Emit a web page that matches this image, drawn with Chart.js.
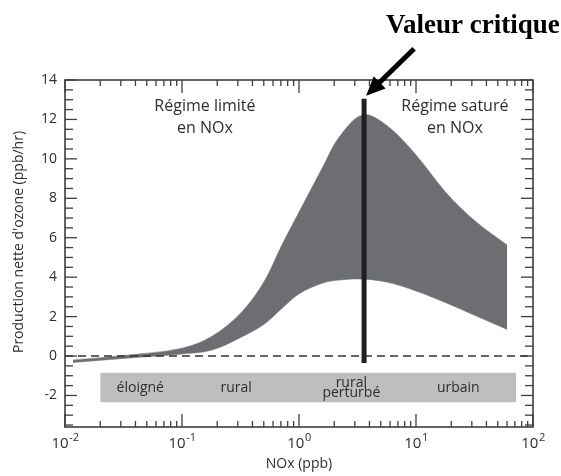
<!DOCTYPE html>
<html>
<head>
<meta charset="utf-8">
<script src="https://cdn.jsdelivr.net/npm/chart.js@4.4.1/dist/chart.umd.min.js"></script>
<style>
  body { margin: 0; background: #fff; }
  #ozoneChart { display: block; }
</style>
</head>
<body>
<canvas id="ozoneChart" width="561" height="476"></canvas>
<script>
// NOx (ppb) sample points along the band
const noxPoints = [0.0117, 0.032, 0.1, 0.18, 0.32, 0.5, 0.71, 1, 1.6, 2.2, 3.5, 5.6, 10, 18, 32, 60];
// upper and lower edges of net ozone production (ppb/hr)
const ozoneUpper = [-0.2, 0.03, 0.4, 1.0, 2.2, 3.75, 5.6, 7.3, 9.6, 11.1, 12.23, 11.7, 10.2, 8.3, 6.85, 5.63];
const ozoneLower = [-0.33, -0.12, 0.1, 0.3, 0.95, 1.6, 2.4, 3.15, 3.7, 3.85, 3.9, 3.75, 3.3, 2.7, 2.05, 1.35];

// critical NOx value (vertical bar)
const critNox = 3.6;
const critRange = [-0.35, 13.05];

// environment strip under the curve
const zoneNames = [['éloigné'], ['rural'], ['rural', 'perturbé'], ['urbain']];
const zoneNox = [0.044, 0.29, 2.8, 23];
const zoneStripNox = [0.02, 72];
const zoneStripY = [-0.85, -2.35];

// regime notes
const regimeText = [['Régime limité', 'en NOx'], ['Régime saturé', 'en NOx']];
const regimeNox = [0.157, 21.5];
const regimeY = 12.1;

// axes
const xRange = [0.01, 100];
const yRange = [-3.6, 14];
const xDecades = [0.01, 0.1, 1, 10, 100];
const xExponents = ['-2', '-1', '0', '1', '2'];
const yLabels = [-2, 0, 2, 4, 6, 8, 10, 12, 14];
const yMinorStep = 0.5;

const axisInk = '#3f3f3f';
const textInk = '#2e2e2e';
const sans = '"Open Sans", sans-serif';

const pts = (xs, ys) => xs.map((x, i) => ({ x: x, y: ys[i] }));
const isLabelled = v => yLabels.some(l => Math.abs(l - v) < 1e-6);

// frame and inward ticks on all four sides
function drawFrame(ctx, x, y) {
  const left = x.getPixelForValue(xRange[0]);
  const right = x.getPixelForValue(xRange[1]);
  const top = y.getPixelForValue(yRange[1]);
  const bottom = y.getPixelForValue(yRange[0]);
  ctx.save();
  ctx.strokeStyle = axisInk;
  ctx.lineWidth = 1.6;
  ctx.strokeRect(left, top, right - left, bottom - top);

  ctx.fillStyle = axisInk;
  xDecades.forEach((d, i) => {
    const steps = i < xDecades.length - 1 ? [1, 2, 3, 4, 5, 6, 7, 8, 9] : [1];
    steps.forEach(m => {
      const px = x.getPixelForValue(d * m);
      const len = m === 1 ? 13 : 6;
      ctx.fillRect(px - 0.65, bottom - len, 1.3, len);
      ctx.fillRect(px - 0.65, top, 1.3, len);
    });
  });
  for (let v = yRange[1]; v > yRange[0]; v -= yMinorStep) {
    const py = y.getPixelForValue(v);
    const len = isLabelled(v) ? 12 : 8;
    ctx.fillRect(left, py - 0.65, len, 1.3);
    ctx.fillRect(right - len, py - 0.65, len, 1.3);
  }
  ctx.restore();
}

// log labels, titles and text notes
const notes = {
  id: 'notes',
  afterDraw(chart) {
    const ctx = chart.ctx;
    const x = chart.scales.x, y = chart.scales.y;
    drawFrame(ctx, x, y);

    const bottom = y.getPixelForValue(yRange[0]);
    const top = y.getPixelForValue(yRange[1]);
    ctx.save();

    // 10^n labels under the x axis
    ctx.fillStyle = textInk;
    ctx.textBaseline = 'alphabetic';
    ctx.textAlign = 'left';
    xDecades.forEach((d, i) => {
      const px = x.getPixelForValue(d);
      ctx.font = '15px ' + sans;
      const wBase = ctx.measureText('10').width;
      ctx.font = '11px ' + sans;
      const wExp = ctx.measureText(xExponents[i]).width;
      const left = px - (wBase + wExp) / 2;
      ctx.font = '15px ' + sans;
      ctx.fillText('10', left, bottom + 21);
      ctx.font = '11px ' + sans;
      ctx.fillText(xExponents[i], left + wBase + 0.5, bottom + 14);
    });

    // y axis title
    ctx.save();
    ctx.translate(19, top + 162);
    ctx.rotate(-Math.PI / 2);
    ctx.font = '14px ' + sans;
    ctx.textAlign = 'center';
    ctx.textBaseline = 'middle';
    ctx.fillText("Production nette d'ozone (ppb/hr)", 0, 0);
    ctx.restore();

    // zone names inside the grey strip
    ctx.font = '14px ' + sans;
    ctx.textAlign = 'center';
    ctx.textBaseline = 'middle';
    const stripMid = y.getPixelForValue((zoneStripY[0] + zoneStripY[1]) / 2);
    zoneNames.forEach((lines, i) => {
      const px = x.getPixelForValue(zoneNox[i]);
      const first = stripMid - (lines.length - 1) * 5;
      lines.forEach((s, k) => ctx.fillText(s, px, first + k * 10.5));
    });

    // regime notes
    ctx.font = '16px ' + sans;
    const regMid = y.getPixelForValue(regimeY);
    regimeText.forEach((lines, i) => {
      const px = x.getPixelForValue(regimeNox[i]);
      lines.forEach((s, k) => ctx.fillText(s, px, regMid - 11 + k * 22));
    });

    // arrow onto the top of the critical bar
    const tipX = x.getPixelForValue(critNox) + 2;
    const tipY = y.getPixelForValue(critRange[1]) - 3;
    const tailX = tipX + 48, tailY = tipY - 47;
    const ang = Math.atan2(tipY - tailY, tipX - tailX);
    const headLen = 19, headHalf = 8.5;
    const baseX = tipX - headLen * Math.cos(ang), baseY = tipY - headLen * Math.sin(ang);
    ctx.strokeStyle = '#000';
    ctx.fillStyle = '#000';
    ctx.lineWidth = 5;
    ctx.beginPath();
    ctx.moveTo(tailX, tailY);
    ctx.lineTo(baseX + 2 * Math.cos(ang), baseY + 2 * Math.sin(ang));
    ctx.stroke();
    ctx.beginPath();
    ctx.moveTo(tipX, tipY);
    ctx.lineTo(baseX + headHalf * Math.sin(ang), baseY - headHalf * Math.cos(ang));
    ctx.lineTo(baseX - headHalf * Math.sin(ang), baseY + headHalf * Math.cos(ang));
    ctx.closePath();
    ctx.fill();

    ctx.font = 'bold 27px "Liberation Serif", "Times New Roman", serif';
    ctx.textAlign = 'left';
    ctx.textBaseline = 'alphabetic';
    ctx.fillText('Valeur critique', tailX - 28, tailY - 16);

    ctx.restore();
  }
};

new Chart(document.getElementById('ozoneChart'), {
  type: 'line',
  data: {
    datasets: [
      {
        label: 'Valeur critique',
        data: pts([critNox, critNox], critRange),
        borderColor: '#231f20',
        borderWidth: 5,
        borderCapStyle: 'butt',
        order: 0
      },
      {
        label: 'zero',
        data: pts(xRange, [0, 0]),
        borderColor: '#333',
        borderWidth: 1.3,
        borderDash: [8, 5],
        order: 1
      },
      {
        label: 'max',
        data: pts(noxPoints, ozoneUpper),
        borderColor: '#6d6e71',
        borderWidth: 0.5,
        backgroundColor: '#6d6e71',
        tension: 0.35,
        fill: '+1',
        order: 2
      },
      {
        label: 'min',
        data: pts(noxPoints, ozoneLower),
        borderColor: '#6d6e71',
        borderWidth: 0.5,
        tension: 0.35,
        fill: false,
        order: 3
      },
      {
        label: 'strip top',
        data: pts(zoneStripNox, [zoneStripY[0], zoneStripY[0]]),
        borderWidth: 0,
        backgroundColor: '#bcbec0',
        fill: '+1',
        order: 4
      },
      {
        label: 'strip bottom',
        data: pts(zoneStripNox, [zoneStripY[1], zoneStripY[1]]),
        borderWidth: 0,
        fill: false,
        order: 5
      }
    ]
  },
  options: {
    responsive: false,
    animation: false,
    layout: { padding: { top: 80, right: 28, left: 0, bottom: 0 } },
    elements: { point: { radius: 0 } },
    plugins: { legend: { display: false }, tooltip: { enabled: false } },
    scales: {
      x: {
        type: 'logarithmic',
        min: xRange[0],
        max: xRange[1],
        grid: { display: false, drawTicks: false },
        border: { display: false },
        ticks: { display: false },
        afterFit: scale => { scale.height = 49; },
        title: {
          display: true,
          text: 'NOx (ppb)',
          color: textInk,
          font: { family: sans, size: 14 },
          padding: { top: 0, bottom: 4 }
        }
      },
      y: {
        min: yRange[0],
        max: yRange[1],
        grid: { display: false, drawTicks: false },
        border: { display: false },
        ticks: {
          stepSize: 1,
          autoSkip: false,
          padding: 8,
          color: textInk,
          font: { family: sans, size: 14 },
          callback: v => isLabelled(v) ? String(Math.round(v)) : ''
        },
        afterFit: scale => { scale.width = 65; }
      }
    }
  },
  plugins: [notes]
});
</script>
</body>
</html>
